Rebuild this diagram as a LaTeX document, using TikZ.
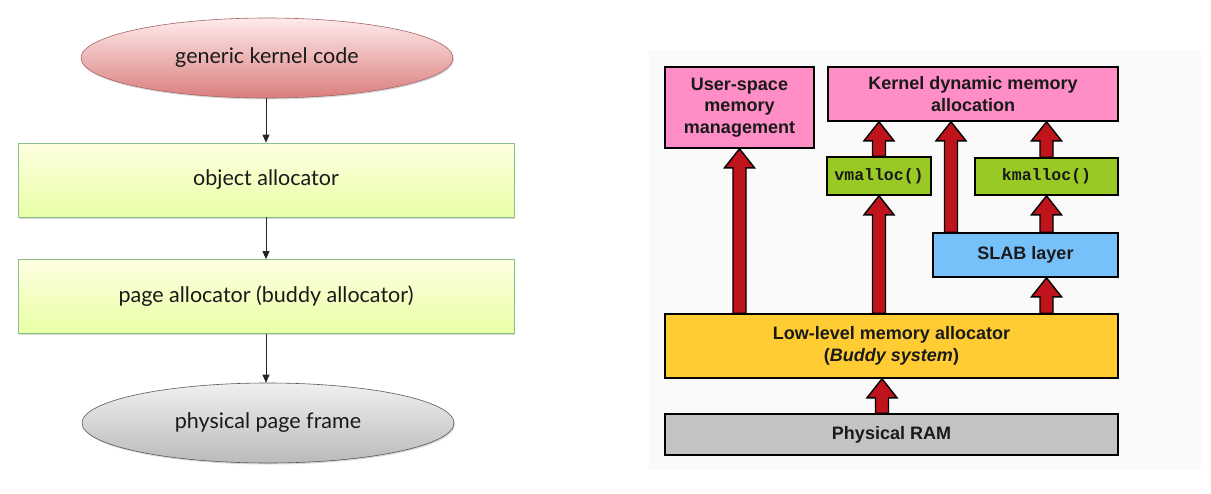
\documentclass[tikz,border=0pt]{standalone}
\usepackage{fontspec}
\usetikzlibrary{arrows.meta,shapes.geometric,shadows,calc}
\newfontfamily\gillf{Lato}
\newfontfamily\arialf{Liberation Sans}
\newfontfamily\courf{Liberation Mono}
\definecolor{pinkbox}{HTML}{FF8EC6}
\definecolor{greenbox}{HTML}{99C925}
\definecolor{bluebox}{HTML}{77C1FA}
\definecolor{yellowbox}{HTML}{FFCC33}
\definecolor{graybox}{HTML}{C3C3C3}
\definecolor{fatred}{HTML}{C0141C}
\definecolor{txt}{HTML}{1A1A1A}
\tikzset{
  lshadow/.style={drop shadow={shadow xshift=1pt,shadow yshift=-1.5pt,opacity=0.25,fill=black!60}},
  lellipse/.style={ellipse,minimum width=372pt,minimum height=80pt,inner sep=0pt,
     font=\gillf\fontsize{21.5}{26}\selectfont,text=txt,lshadow},
  lbox/.style={rectangle,minimum width=496pt,minimum height=74pt,inner sep=0pt,
     draw=green!30!gray!70,line width=0.7pt,top color=green!3!yellow!12,bottom color=green!25!yellow!35,
     font=\gillf\fontsize{21.5}{26}\selectfont,text=txt,lshadow},
  larrow/.style={draw=black!85,line width=0.9pt,-{Triangle[width=7pt,length=8pt]}},
  rbox/.style={rectangle,draw=black,line width=1.6pt,inner sep=0pt,align=center,
     font=\arialf\bfseries\fontsize{18}{21.5}\selectfont,text=txt},
  fatarrow/.style={draw=black,line width=1.4pt,fill=fatred,line join=miter},
}
\newcommand\fatarr[2]{%
  \draw[fatarrow] let \p1=#1, \p2=#2 in
    (\x1-6.5pt,\y1) -- (\x1-6.5pt,\y2-19pt) -- (\x1-15pt,\y2-19pt) -- (\x1,\y2)
    -- (\x1+15pt,\y2-19pt) -- (\x1+6.5pt,\y2-19pt) -- (\x1+6.5pt,\y1) -- cycle;}
\begin{document}
\begin{tikzpicture}[x=1pt,y=-1pt]
\useasboundingbox (0,0) rectangle (1211,493);
% ---------- left diagram ----------
\node[lellipse,draw=red!40!black!60,line width=0.6pt,top color=red!8!white,bottom color=red!45!white!85!black!95] (gk) at (267,58) {generic kernel code};
\node[lbox] (obj) at (266,180) {object allocator};
\node[lbox] (page) at (266,296.5) {page allocator (buddy allocator)};
\node[lellipse,draw=black!65,line width=0.6pt,top color=black!6,bottom color=black!27] (ppf) at (268,423) {physical page frame};
\draw[larrow] (gk.south -| obj.north) -- (obj.north);
\draw[larrow] (obj.south) -- (page.north);
\draw[larrow] (page.south) -- (page.south |- ppf.north);
% ---------- right diagram ----------
\fill[black!2] (649,50) rectangle (1201,470);
\node[rbox,fill=pinkbox,minimum width=149pt,minimum height=81pt] (user) at (739.5,107.5) {User-space\\memory\\management};
\node[rbox,fill=pinkbox,minimum width=290pt,minimum height=54pt] (kdyn) at (973,94) {Kernel dynamic memory\\allocation};
\node[rbox,fill=greenbox,minimum width=104pt,minimum height=38pt,font=\courf\bfseries\fontsize{16.5}{20}\selectfont] (vm) at (879,176) {vmalloc()};
\node[rbox,fill=greenbox,minimum width=143pt,minimum height=37pt,font=\courf\bfseries\fontsize{16.5}{20}\selectfont] (km) at (1046.5,176.5) {kmalloc()};
\node[rbox,fill=bluebox,minimum width=185pt,minimum height=44pt] (slab) at (1025.5,255) {SLAB layer};
\node[rbox,fill=yellowbox,minimum width=453pt,minimum height=64pt] (low) at (891.5,346) {Low-level memory allocator\\(\textit{Buddy system})};
\node[rbox,fill=graybox,minimum width=453pt,minimum height=41pt] (ram) at (891.5,434.5) {Physical RAM};
\coordinate (mx) at (951,0);
\coordinate (rx) at (882,0);
\fatarr{(low.north -| user.south)}{(user.south)}
\fatarr{(low.north -| vm.south)}{(vm.south)}
\fatarr{(vm.north)}{(kdyn.south -| vm.north)}
\fatarr{(slab.north -| mx)}{(kdyn.south -| mx)}
\fatarr{(km.north)}{(kdyn.south -| km.north)}
\fatarr{(slab.north -| km.south)}{(km.south)}
\fatarr{(low.north -| km.south)}{(slab.south -| km.south)}
\fatarr{(ram.north -| rx)}{(low.south -| rx)}
\end{tikzpicture}
\end{document}
